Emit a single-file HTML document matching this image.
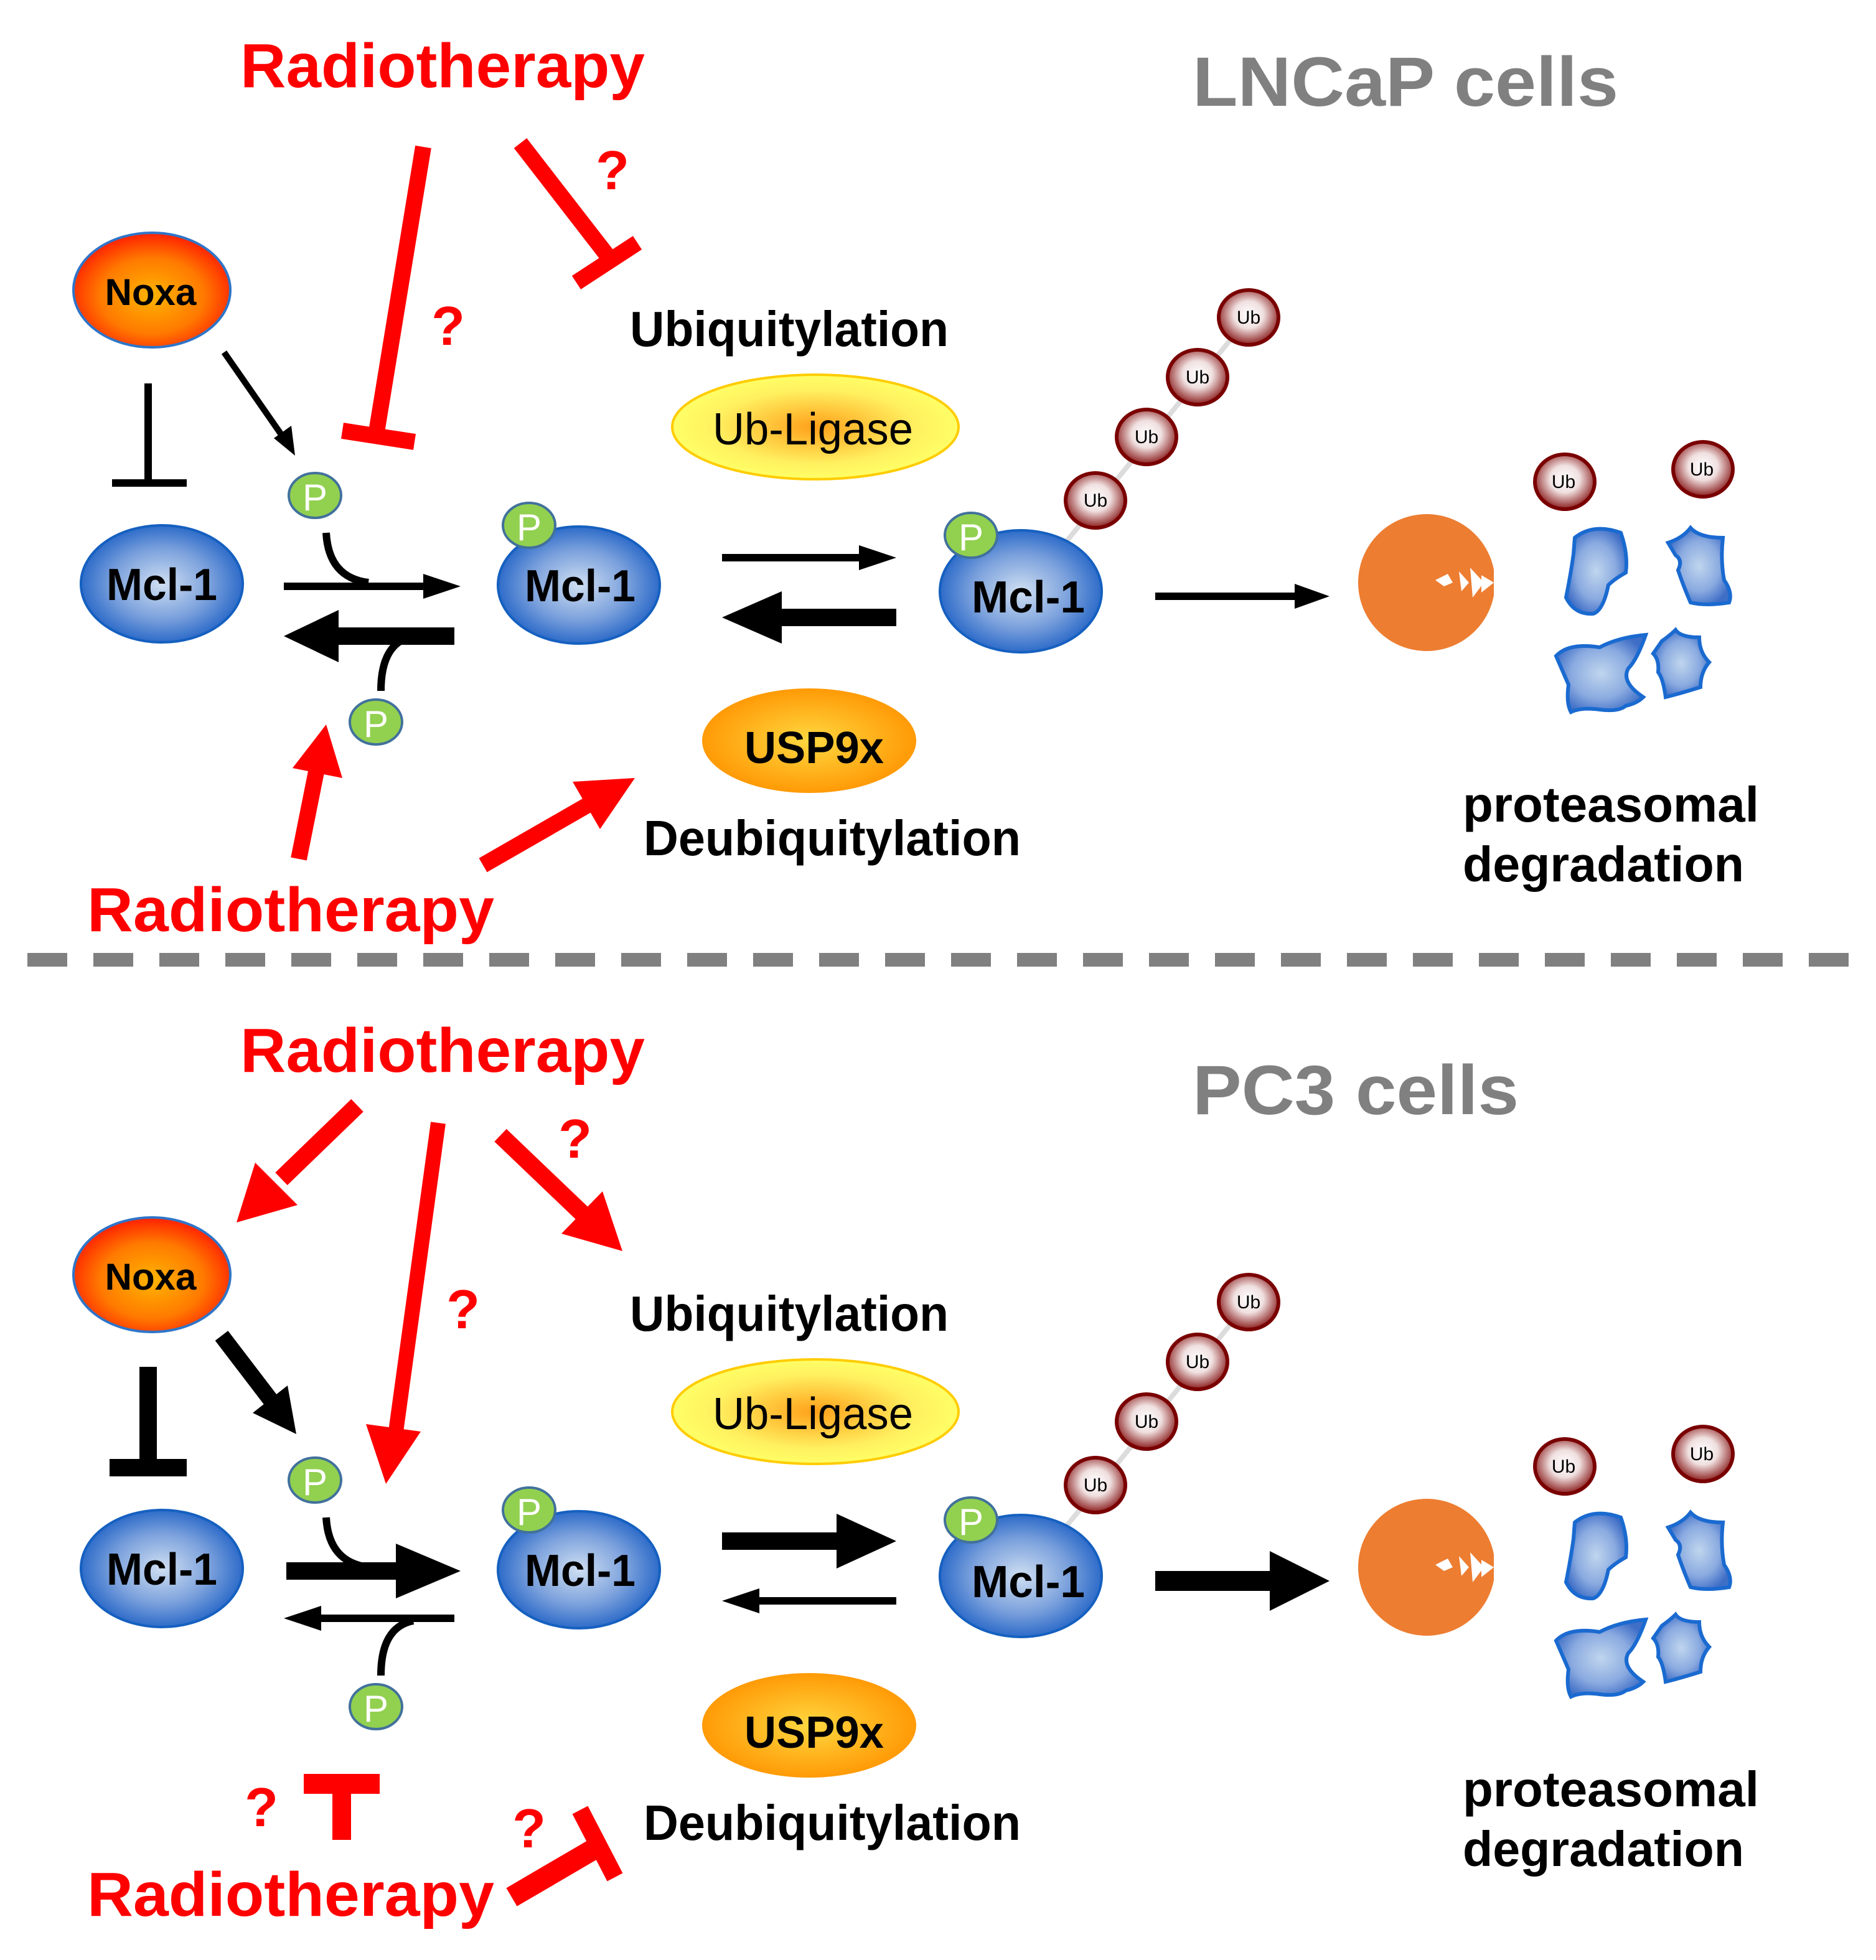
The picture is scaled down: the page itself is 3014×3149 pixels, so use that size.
<!DOCTYPE html>
<html><head><meta charset="utf-8"><style>html,body{margin:0;padding:0;background:#fff}svg{display:block}</style></head>
<body>
<svg xmlns="http://www.w3.org/2000/svg" width="3014" height="3149" viewBox="0 0 1507 1574.5" font-family="'Liberation Sans', Arial, sans-serif">
<defs>
<radialGradient id="gNoxa" cx="50%" cy="55%" r="55%"><stop offset="0" stop-color="#ffb400"/><stop offset="0.6" stop-color="#ff7a00"/><stop offset="1" stop-color="#ff2000"/></radialGradient>
<radialGradient id="gMcl" cx="50%" cy="50%" r="55%"><stop offset="0" stop-color="#cfdff2"/><stop offset="0.55" stop-color="#7aa0dc"/><stop offset="1" stop-color="#1a5ec4"/></radialGradient>
<radialGradient id="gUb" cx="50%" cy="45%" r="55%"><stop offset="0" stop-color="#ffffff"/><stop offset="0.45" stop-color="#f0e0e0"/><stop offset="1" stop-color="#8a1c1c"/></radialGradient>
<radialGradient id="gLig" cx="50%" cy="50%" r="50%"><stop offset="0" stop-color="#ffa01a"/><stop offset="0.7" stop-color="#fff060"/><stop offset="1" stop-color="#ffff66"/></radialGradient>
<radialGradient id="gUsp" cx="50%" cy="50%" r="55%"><stop offset="0" stop-color="#ffd840"/><stop offset="1" stop-color="#ff9400"/></radialGradient>
<radialGradient id="gFrag" cx="50%" cy="50%" r="55%"><stop offset="0" stop-color="#c0d6ee"/><stop offset="0.6" stop-color="#8aaae0"/><stop offset="1" stop-color="#3f6ec6"/></radialGradient>
<clipPath id="pac"><rect x="1080" y="400" width="120" height="140"/></clipPath>
<g id="frags" fill="url(#gFrag)" stroke="#1a6ad0" stroke-width="3">
<path d="M1265,432 Q1280,420 1302,428 Q1308,445 1306,460 Q1297,465 1292,470 Q1288,490 1280,493 Q1265,494 1258,480 Q1262,460 1264,445 Z"/>
<path d="M1340,436 Q1352,432 1358,424 Q1365,432 1384,432 Q1382,450 1385,466 Q1392,476 1389,484 Q1370,487 1358,484 Q1352,470 1348,458 Q1352,450 1346,446 Z"/>
<path d="M1250,527 Q1260,516 1285,520 Q1300,512 1322,510 Q1315,530 1308,537 Q1302,548 1320,560 Q1315,565 1306,567 Q1300,572 1285,570 Q1270,568 1262,572 Q1258,565 1260,550 Z"/>
<path d="M1335,515 Q1342,510 1346,506 Q1350,512 1365,512 Q1365,524 1373,532 Q1366,540 1366,552 Q1350,557 1338,560 Q1336,545 1332,540 Q1333,530 1328,525 Z"/>
</g>
<g id="common">
<!-- Noxa -->
<ellipse cx="122" cy="233" rx="63" ry="46" fill="url(#gNoxa)" stroke="#2f75c8" stroke-width="2"/>
<text x="121" y="245" font-size="30" font-weight="bold" text-anchor="middle">Noxa</text>
<!-- Mcl-1 left -->
<ellipse cx="130" cy="469" rx="65" ry="47" fill="url(#gMcl)" stroke="#1560c0" stroke-width="2"/>
<text x="130" y="482" font-size="36" font-weight="bold" text-anchor="middle" textLength="89" lengthAdjust="spacingAndGlyphs">Mcl-1</text>
<!-- Mcl-1 mid -->
<ellipse cx="465" cy="470" rx="65" ry="47" fill="url(#gMcl)" stroke="#1560c0" stroke-width="2"/>
<text x="466" y="483" font-size="36" font-weight="bold" text-anchor="middle" textLength="89" lengthAdjust="spacingAndGlyphs">Mcl-1</text>
<ellipse cx="425" cy="422" rx="21" ry="18" fill="#92d050" stroke="#41719c" stroke-width="2"/>
<text x="425" y="434" font-size="30" fill="#fff" text-anchor="middle">P</text>
<!-- P free -->
<ellipse cx="253" cy="398" rx="21" ry="18" fill="#92d050" stroke="#41719c" stroke-width="2"/>
<text x="253" y="410" font-size="30" fill="#fff" text-anchor="middle">P</text>
<ellipse cx="302" cy="580" rx="21" ry="18" fill="#92d050" stroke="#41719c" stroke-width="2"/>
<text x="302" y="592" font-size="30" fill="#fff" text-anchor="middle">P</text>
<!-- Ub chain -->
<line x1="855" y1="437" x2="1003" y2="255" stroke="#dcdcdc" stroke-width="4"/>
<g fill="url(#gUb)" stroke="#7a0000" stroke-width="3">
<ellipse cx="880" cy="402" rx="24" ry="22"/><ellipse cx="921" cy="351" rx="24" ry="22"/><ellipse cx="962" cy="303" rx="24" ry="22"/><ellipse cx="1003" cy="255" rx="24" ry="22"/>
<ellipse cx="1257" cy="387" rx="24" ry="22"/><ellipse cx="1368" cy="377" rx="24" ry="22"/>
</g>
<g font-size="15" text-anchor="middle">
<text x="880" y="407">Ub</text><text x="921" y="356">Ub</text><text x="962" y="308">Ub</text><text x="1003" y="260">Ub</text><text x="1256" y="392">Ub</text><text x="1367" y="382">Ub</text>
</g>
<!-- Mcl-1 right -->
<ellipse cx="820" cy="475" rx="65" ry="49" fill="url(#gMcl)" stroke="#1560c0" stroke-width="2"/>
<text x="826" y="492" font-size="36" font-weight="bold" text-anchor="middle" textLength="91" lengthAdjust="spacingAndGlyphs">Mcl-1</text>
<ellipse cx="780" cy="430" rx="21" ry="18" fill="#92d050" stroke="#41719c" stroke-width="2"/>
<text x="780" y="442" font-size="30" fill="#fff" text-anchor="middle">P</text>
<!-- Ub-ligase / USP9x -->
<text x="506" y="278" font-size="40" font-weight="bold" textLength="256" lengthAdjust="spacingAndGlyphs">Ubiquitylation</text>
<ellipse cx="655" cy="343" rx="115" ry="42" fill="url(#gLig)" stroke="#ffcc00" stroke-width="2"/>
<text x="653" y="357" font-size="36" text-anchor="middle" textLength="161" lengthAdjust="spacingAndGlyphs">Ub-Ligase</text>
<ellipse cx="650" cy="595" rx="86" ry="42" fill="url(#gUsp)"/>
<text x="654" y="613" font-size="36" font-weight="bold" text-anchor="middle" textLength="112" lengthAdjust="spacingAndGlyphs">USP9x</text>
<text x="517" y="687" font-size="40" font-weight="bold" textLength="303" lengthAdjust="spacingAndGlyphs">Deubiquitylation</text>
<!-- proteasome -->
<g clip-path="url(#pac)"><circle cx="1146" cy="468" r="55" fill="#ed7d31"/></g>
<polygon points="1153,466 1163,461 1167,468 1160,471" fill="#fff"/>
<polygon points="1172,459 1180,468 1174,475" fill="#fff"/>
<polygon points="1181,456 1192,468 1183,480" fill="#fff"/>
<polygon points="1190,462 1200,468 1190,476" fill="#fff"/>
<use href="#frags"/>
<text x="1175" y="660" font-size="40" font-weight="bold" textLength="238" lengthAdjust="spacingAndGlyphs">proteasomal</text>
<text x="1175" y="708" font-size="40" font-weight="bold" textLength="226" lengthAdjust="spacingAndGlyphs">degradation</text>
<!-- Radiotherapy labels -->
<text x="193" y="70" font-size="50" font-weight="bold" fill="#ff0000" textLength="325" lengthAdjust="spacingAndGlyphs">Radiotherapy</text>
<text x="70" y="748" font-size="50" font-weight="bold" fill="#ff0000" textLength="327" lengthAdjust="spacingAndGlyphs">Radiotherapy</text>
</g>
</defs>

<!-- ================= TOP PANEL ================= -->
<use href="#common"/>
<text x="958" y="85" font-size="56" font-weight="bold" fill="#808080" textLength="342" lengthAdjust="spacingAndGlyphs">LNCaP cells</text>
<!-- red inhibitions -->
<g stroke="#ff0000" stroke-width="13" fill="none">
<line x1="340" y1="118" x2="302" y2="350"/>
<line x1="275" y1="346" x2="333" y2="355"/>
<line x1="418" y1="115" x2="490" y2="208"/>
<line x1="463" y1="227" x2="512" y2="195"/>
</g>
<g fill="#ff0000" font-size="44" font-weight="bold" text-anchor="middle">
<text x="492" y="152">?</text><text x="360" y="277">?</text>
</g>
<!-- red arrows -->
<line x1="240" y1="690" x2="255" y2="615" stroke="#ff0000" stroke-width="13"/>
<polygon points="262,582 275,625 235,617" fill="#ff0000"/>
<line x1="388" y1="695" x2="475" y2="645" stroke="#ff0000" stroke-width="13"/>
<polygon points="510,625 482,666 460,628" fill="#ff0000"/>
<!-- black Noxa -->
<line x1="119" y1="308" x2="119" y2="388" stroke="#000" stroke-width="6"/>
<line x1="90" y1="388" x2="150" y2="388" stroke="#000" stroke-width="6"/>
<line x1="180" y1="283" x2="228" y2="352" stroke="#000" stroke-width="5"/>
<polygon points="237,366 220,352 234,342" fill="#000"/>
<!-- P arrows -->
<line x1="228" y1="471" x2="345" y2="471" stroke="#000" stroke-width="6"/>
<polygon points="340,461 370,471 340,481" fill="#000"/>
<rect x="268" y="504" width="97" height="14" fill="#000"/>
<polygon points="228,511 272,490 272,532" fill="#000"/>
<path d="M262,428 Q264,464 296,468" stroke="#000" stroke-width="6" fill="none"/>
<path d="M306,555 Q306,516 332,511" stroke="#000" stroke-width="6" fill="none"/>
<!-- center arrows -->
<line x1="580" y1="448" x2="695" y2="448" stroke="#000" stroke-width="6"/>
<polygon points="690,438 720,448 690,458" fill="#000"/>
<rect x="625" y="489" width="95" height="14" fill="#000"/>
<polygon points="580,496 628,475 628,517" fill="#000"/>
<!-- to proteasome -->
<line x1="928" y1="479" x2="1042" y2="479" stroke="#000" stroke-width="6"/>
<polygon points="1040,469 1068,479 1040,489" fill="#000"/>

<!-- dashed separator -->
<line x1="22" y1="771" x2="1490" y2="771" stroke="#808080" stroke-width="11" stroke-dasharray="32 21"/>

<!-- ================= BOTTOM PANEL ================= -->
<use href="#common" y="791"/>
<text x="958" y="895" font-size="56" font-weight="bold" fill="#808080" textLength="262" lengthAdjust="spacingAndGlyphs">PC3 cells</text>
<!-- red arrows from top -->
<line x1="287" y1="888" x2="226" y2="947" stroke="#ff0000" stroke-width="14"/>
<polygon points="190,982 239,968 205,934" fill="#ff0000"/>
<line x1="352" y1="902" x2="318" y2="1150" stroke="#ff0000" stroke-width="12"/>
<polygon points="310,1192 338,1150 294,1144" fill="#ff0000"/>
<line x1="402" y1="912" x2="470" y2="977" stroke="#ff0000" stroke-width="14"/>
<polygon points="500,1005 451,991 484,957" fill="#ff0000"/>
<g fill="#ff0000" font-size="44" font-weight="bold" text-anchor="middle">
<text x="462" y="930">?</text><text x="372" y="1067">?</text>
<text x="210" y="1467">?</text><text x="425" y="1484">?</text>
</g>
<!-- black Noxa -->
<line x1="119" y1="1098" x2="119" y2="1178" stroke="#000" stroke-width="14"/>
<line x1="88" y1="1179" x2="150" y2="1179" stroke="#000" stroke-width="14"/>
<line x1="178" y1="1073" x2="220" y2="1128" stroke="#000" stroke-width="13"/>
<polygon points="238,1152 203,1135 231,1113" fill="#000"/>
<!-- P arrows -->
<rect x="230" y="1255" width="92" height="14" fill="#000"/>
<polygon points="318,1240 370,1262 318,1284" fill="#000"/>
<line x1="256" y1="1300" x2="365" y2="1300" stroke="#000" stroke-width="6"/>
<polygon points="228,1300 258,1290 258,1310" fill="#000"/>
<path d="M262,1219 Q264,1255 296,1259" stroke="#000" stroke-width="6" fill="none"/>
<path d="M306,1346 Q306,1307 332,1302" stroke="#000" stroke-width="6" fill="none"/>
<!-- center arrows -->
<rect x="580" y="1231" width="95" height="14" fill="#000"/>
<polygon points="672,1216 720,1238 672,1260" fill="#000"/>
<line x1="608" y1="1286" x2="720" y2="1286" stroke="#000" stroke-width="6"/>
<polygon points="580,1286 610,1276 610,1296" fill="#000"/>
<!-- to proteasome -->
<rect x="928" y="1262" width="95" height="16" fill="#000"/>
<polygon points="1020,1246 1068,1270 1020,1294" fill="#000"/>
<!-- bottom red inhibitions -->
<rect x="244" y="1425" width="61" height="16" fill="#ff0000"/>
<rect x="267" y="1440" width="15" height="38" fill="#ff0000"/>
<line x1="411" y1="1524" x2="476" y2="1486" stroke="#ff0000" stroke-width="17"/>
<line x1="466" y1="1454" x2="494" y2="1508" stroke="#ff0000" stroke-width="14"/>
</svg>
</body></html>
